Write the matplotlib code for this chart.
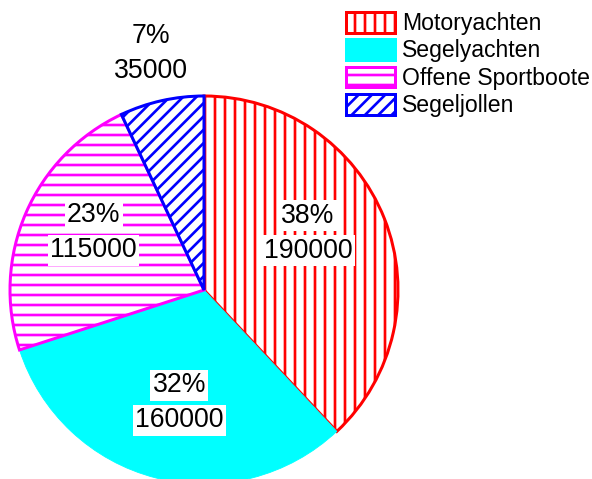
import numpy as np
import matplotlib
matplotlib.use("Agg")
import matplotlib.pyplot as plt
from matplotlib.patches import Patch

categories = ["Motoryachten", "Segelyachten", "Offene Sportboote", "Segeljollen"]
values = [190000, 160000, 115000, 35000]
percents = ["38%", "32%", "23%", "7%"]

colors = ["#ff0000", "#00ffff", "#ff00ff", "#0000ff"]
hatches = ["||", None, "--", "///"]
label_dist = [0.61, 0.595, 0.64, 1.25]
label_ang_shift = [7.0, 2.0, -4.0, 0.0]

plt.rcParams['font.family'] = ['Liberation Sans', 'DejaVu Sans']
plt.rcParams['hatch.linewidth'] = 1.6

DPI = 120
W, H = 592, 479
fig = plt.figure(figsize=(W / DPI, H / DPI), dpi=DPI)
cx, cy, r = 204, 290, 194
ax = fig.add_axes([(cx - r) / W, (H - (cy + r)) / H, 2 * r / W, 2 * r / H])

wedges, _ = ax.pie(values, startangle=90, counterclock=False, radius=1,
                   colors=['white'] * 4)
ax.set_xlim(-1, 1)
ax.set_ylim(-1, 1)
ax.set_aspect('equal')
ax.axis('off')
for w, c, h in zip(wedges, colors, hatches):
    if h is None:
        w.set_facecolor(c)
        w.set_edgecolor(c)
        w.set_linewidth(0.5)
    else:
        w.set_facecolor('white')
        w.set_edgecolor(c)
        w.set_hatch(h)
        w.set_linewidth(1.8)
    w.set_clip_on(False)

half_gap = 10.5  # points between line centres / 2
for i, w in enumerate(wedges):
    mid = np.deg2rad((w.theta1 + w.theta2) / 2 + label_ang_shift[i])
    x = label_dist[i] * np.cos(mid)
    y = label_dist[i] * np.sin(mid)
    bbox = dict(facecolor='white', edgecolor='none', pad=1.5) if i < 3 else None
    for line, dy in ((percents[i], half_gap), (str(values[i]), -half_gap)):
        ax.annotate(line, (x, y), xytext=(0, dy), textcoords='offset points',
                    ha='center', va='center', fontsize=16, bbox=bbox,
                    annotation_clip=False)

handles = []
for c, h in zip(colors, hatches):
    if h is None:
        handles.append(Patch(facecolor=c, edgecolor=c, linewidth=1.8))
    else:
        handles.append(Patch(facecolor='white', edgecolor=c, hatch=h, linewidth=1.8))
fig.legend(handles, categories, loc='upper right', bbox_to_anchor=(590 / W, 1 - 12 / H),
           frameon=False, fontsize=13.8, handlelength=2.15, handleheight=1.0,
           handletextpad=0.3, labelspacing=0.18, borderpad=0, borderaxespad=0)

fig.savefig("out.png", dpi=DPI)
